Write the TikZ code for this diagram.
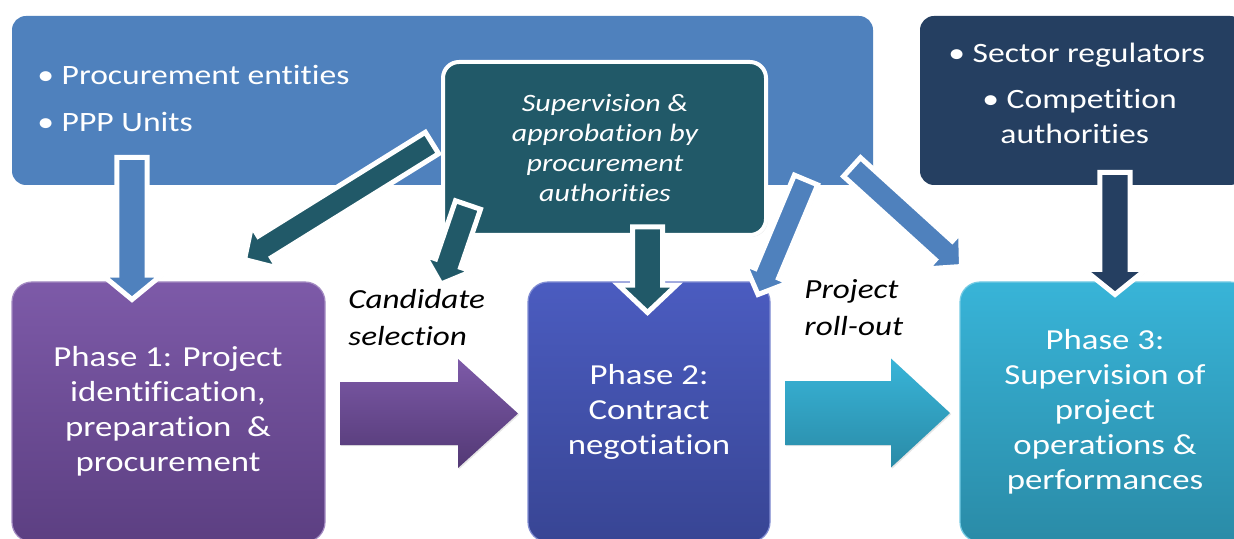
\documentclass[tikz,border=0pt]{standalone}
\usepackage{fontspec}
\setmainfont{Carlito}[FakeStretch=1.2, Ligatures=CommonOff]
\usetikzlibrary{calc,shadows}
\definecolor{topblue}{HTML}{4F81BD}
\definecolor{supteal}{HTML}{215968}
\definecolor{navy}{HTML}{253F61}
\definecolor{pAtop}{HTML}{7D5AA8}
\definecolor{pAbot}{HTML}{5C3F82}
\definecolor{pBtop}{HTML}{4B5CC0}
\definecolor{pBbot}{HTML}{384594}
\definecolor{pCtop}{HTML}{38B4D8}
\definecolor{pCbot}{HTML}{2A8BA7}
\newcommand{\blockarrow}[6]{%
  \coordinate (ba-base) at ($(#3)!#6!(#2)$);
  \path[#1] ($(#2)!#4!90:(#3)$) -- ($(ba-base)!#4!90:(#3)$) -- ($(ba-base)!#5!90:(#3)$) -- (#3)
    -- ($(ba-base)!#5!-90:(#3)$) -- ($(ba-base)!#4!-90:(#3)$) -- ($(#2)!#4!-90:(#3)$) -- cycle;
}
\tikzset{
  topbox/.style={rounded corners=7pt, inner sep=0pt, outer sep=0pt, anchor=north west},
  phasebox/.style={rounded corners=10pt, inner sep=0pt, outer sep=0pt, anchor=north west, line width=0.6pt},
  barrow/.style={fill=#1, draw=white, line width=2.5pt, line join=miter,
    drop shadow={opacity=0.25, shadow xshift=0.7pt, shadow yshift=-0.7pt}},
  phasetext/.style={text=white, align=center, font=\fontsize{14.5pt}{17.5pt}\selectfont},
  bullettext/.style={text=white, anchor=west, inner sep=0pt, font=\fontsize{14pt}{17pt}\selectfont},
  labeltext/.style={text=black, align=left, anchor=west, inner sep=0pt, font=\fontsize{13.8pt}{18.5pt}\selectfont\itshape},
}
\begin{document}
\begin{tikzpicture}[x=0.5pt, y=-0.5pt]
\useasboundingbox (0,0) rectangle (1234,539);
\clip (0,0) rectangle (1234,539);
\fill[white] (0,0) rectangle (1234,539);

% top boxes
\node (pe) [topbox, fill=topblue, minimum width=430.5pt, minimum height=84.5pt] at (12,16) {};
\node (reg) [topbox, fill=navy, minimum width=162pt, minimum height=84.5pt] at (920,16) {};

% phase boxes
\node (ph1) [phasebox, top color=pAtop, bottom color=pAbot, draw=pAtop!70!white, minimum width=156.5pt, minimum height=130pt] at (12,282) {};
\node (ph2) [phasebox, top color=pBtop, bottom color=pBbot, draw=pBtop!70!white, minimum width=121pt, minimum height=130pt] at (528,282) {};
\node (ph3) [phasebox, top color=pCtop, bottom color=pCbot, draw=pCtop!70!white, minimum width=145pt, minimum height=130pt] at (960,282) {};

% supervision box
\node (sup) [topbox, fill=supteal, draw=white, line width=2pt, rounded corners=8pt,
  drop shadow={opacity=0.25, shadow xshift=0.8pt, shadow yshift=-0.8pt},
  minimum width=161.5pt, minimum height=86.5pt] at (443,62) {};

% connector end points
\coordinate (a1s) at (132,157.5);  \coordinate (a1e) at (132,299.5);
\coordinate (a2s) at (432,143);    \coordinate (a2e) at (244.5,259.5);
\coordinate (a3s) at (468,205);    \coordinate (a3e) at (441,284);
\coordinate (a4s) at (647.5,227);  \coordinate (a4e) at (647.5,312.5);
\coordinate (a5s) at (806,180);    \coordinate (a5e) at (758,294.5);
\coordinate (a6s) at (852,167);    \coordinate (a6e) at (961.5,266.5);
\coordinate (a7s) at (1115,172.5); \coordinate (a7e) at (1115,294.5);
\coordinate (h1s) at (340,413.5);  \coordinate (h1e) at (518,413.5);
\coordinate (h2s) at (785,413);    \coordinate (h2e) at (950,413);

% block arrows
\blockarrow{barrow=topblue}{a1s}{a1e}{7.6pt}{14.8pt}{12.2pt}
\blockarrow{barrow=supteal}{a2s}{a2e}{6.3pt}{12.5pt}{12pt}
\blockarrow{barrow=supteal}{a3s}{a3e}{6.6pt}{12.5pt}{11pt}
\blockarrow{barrow=supteal}{a4s}{a4e}{7.5pt}{14.5pt}{13.7pt}
\blockarrow{barrow=topblue}{a5s}{a5e}{6.3pt}{12pt}{11.5pt}
\blockarrow{barrow=topblue}{a6s}{a6e}{6.3pt}{12.5pt}{12pt}
\blockarrow{barrow=navy}{a7s}{a7e}{7.6pt}{15.5pt}{12.5pt}

% horizontal arrows
\blockarrow{top color=pAtop, bottom color=pAbot!90!black,
  drop shadow={opacity=0.2, shadow xshift=0.6pt, shadow yshift=-0.6pt}}{h1s}{h1e}{15.75pt}{27.25pt}{30pt}
\blockarrow{top color=pCtop, bottom color=pCbot,
  drop shadow={opacity=0.2, shadow xshift=0.6pt, shadow yshift=-0.6pt}}{h2s}{h2e}{16pt}{27.25pt}{29.5pt}

% texts
\node (t1) [bullettext] at (37,75) {• Procurement entities};
\node (t2) [bullettext] at (37,122) {• PPP Units};
\node (t3) [bullettext] at (948,55) {• Sector regulators};
\node (t4) [bullettext] at (982,101) {• Competition};
\node (t5) [bullettext] at (1000,134) {authorities};
\node (t6) [text=white, align=center, font=\fontsize{12.5pt}{15pt}\selectfont\itshape] at (605,148)
  {Supervision \&\\approbation by\\procurement\\authorities};
\node (t7) [phasetext] at (168,411) {Phase 1: Project\\identification,\\preparation\ \ \&\\procurement};
\node (t8) [phasetext] at (649,412) {Phase 2:\\Contract\\negotiation};
\node (t9) [phasetext] at (1105,412) {Phase 3:\\Supervision of\\project\\operations \&\\performances};
\node (l1) [labeltext] at (348,318) {Candidate\\selection};
\node (l2) [labeltext] at (804,308) {Project\\roll-out};
\end{tikzpicture}
\end{document}
